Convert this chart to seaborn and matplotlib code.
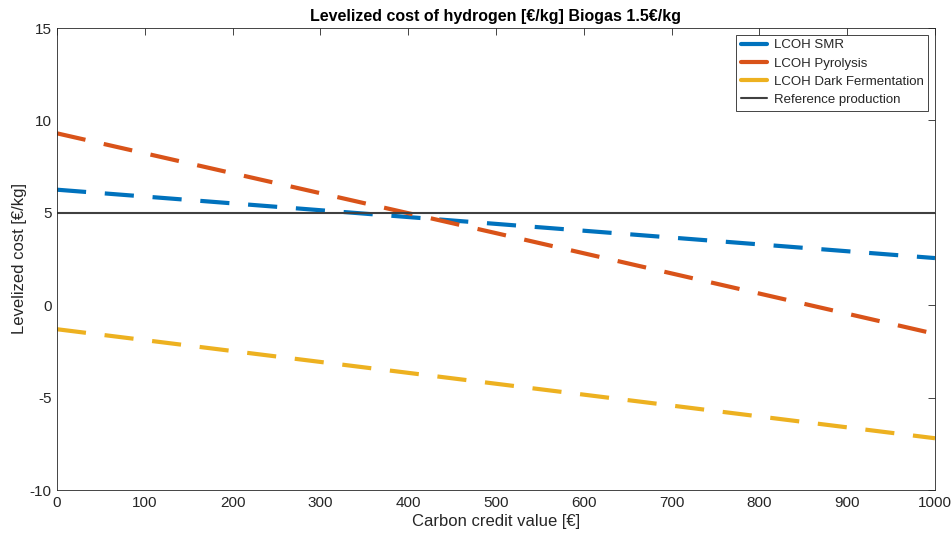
import numpy as np
import pandas as pd
import matplotlib
matplotlib.use("Agg")
import matplotlib.pyplot as plt
import seaborn as sns

carbon_credit = [0, 500, 1000]
lcoh_smr = [6.25, 4.40, 2.55]
lcoh_pyrolysis = [9.30, 3.90, -1.55]
lcoh_dark = [-1.30, -4.25, -7.20]
reference = [5.0, 5.0, 5.0]
series_names = ["LCOH SMR", "LCOH Pyrolysis", "LCOH Dark Fermentation", "Reference production"]
x_ticks = [0, 100, 200, 300, 400, 500, 600, 700, 800, 900, 1000]
y_ticks = [-10, -5, 0, 5, 10, 15]

sns.set_style("white")
plt.rcParams['font.family'] = ['Liberation Sans', 'DejaVu Sans']
plt.rcParams['axes.unicode_minus'] = False

df = pd.DataFrame({
    "x": carbon_credit * 4,
    "y": lcoh_smr + lcoh_pyrolysis + lcoh_dark + reference,
    "series": sum([[n] * len(carbon_credit) for n in series_names], []),
})

fig = plt.figure(figsize=(9.53, 5.33), dpi=100)
ax = fig.add_axes([57/953, 1 - 490/533, (935-57)/953, (490-28)/533])

palette = {"LCOH SMR": "#0072BD", "LCOH Pyrolysis": "#D95319",
           "LCOH Dark Fermentation": "#EDB120", "Reference production": "#404040"}
sns.lineplot(data=df, x="x", y="y", hue="series", palette=palette, ax=ax,
             legend=False)
for line, name in zip(ax.get_lines(), series_names):
    if name == "Reference production":
        line.set_linewidth(1.5)
        line.set_linestyle("-")
    else:
        line.set_linewidth(3)
        line.set_dashes([7, 4.5])
    line.set_label(name)

ax.set_xlim(0, 1000)
ax.set_ylim(-10, 15)
ax.set_xticks(x_ticks)
ax.set_yticks(y_ticks)
ax.tick_params(direction="in", top=True, right=True, length=5, width=0.6,
               colors="#262626", labelsize=11, pad=4)
for s in ax.spines.values():
    s.set_visible(True)
    s.set_color("#262626")
    s.set_linewidth(0.6)
ax.set_xlabel("Carbon credit value [€]", fontsize=12, color="#262626", labelpad=3)
ax.set_ylabel("Levelized cost [€/kg]", fontsize=12, color="#262626")
ax.yaxis.set_label_coords(-30/878, 0.5)
ax.set_title("Levelized cost of hydrogen [€/kg] Biogas 1.5€/kg", fontsize=11.5,
             fontweight="bold", color="#000000", pad=5)

leg = ax.legend(loc="upper right", fontsize=9.5, frameon=True, fancybox=False,
                edgecolor="#262626", framealpha=1, handlelength=2.0,
                borderaxespad=0.5, labelspacing=0.45, handletextpad=0.5,
                borderpad=0.35)
leg.get_frame().set_linewidth(0.6)
for h in leg.get_lines():
    h.set_linestyle("-")

fig.savefig("out.png", dpi=100)
